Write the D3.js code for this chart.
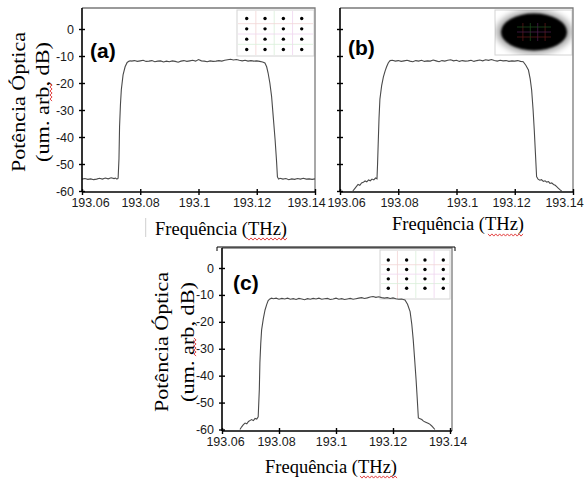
<!DOCTYPE html>
<html><head><meta charset="utf-8">
<script src="https://cdn.jsdelivr.net/npm/d3@7"></script>
<style>body{margin:0;background:#fff}</style>
</head><body>
<svg id="chart" width="584" height="481"></svg>
<script>
// ---------- data ----------
const xTicks = [193.06, 193.08, 193.1, 193.12, 193.14];
const xTickLabels = ["193.06", "193.08", "193.1", "193.12", "193.14"];
const yTicks = [0, -10, -20, -30, -40, -50, -60];
const yTickLabels = ["0", "-10", "-20", "-30", "-40", "-50", "-60"];
const panelLabels = ["(a)", "(b)", "(c)"];
const yTitleLines = ["Potência Óptica", "(um. arb, dB)"];
const xTitle = "Frequência (THz)";
const qamLevels = [-3, -1, 1, 3];

const spectrumA = [
  [193.0600,-55.6],[193.0610,-55.4],[193.0620,-55.7],[193.0630,-55.5],[193.0640,-55.8],[193.0650,-55.6],
  [193.0660,-55.3],[193.0670,-55.6],[193.0680,-55.2],[193.0690,-55.5],[193.0700,-55.1],[193.0710,-55.4],
  [193.0715,-55.2],[193.0720,-55.6],[193.0724,-55.3],
  [193.0727,-48],[193.0729,-36],[193.0732,-28],[193.0735,-22.5],[193.0741,-17],[193.0748,-14],
  [193.0755,-12.4],[193.0762,-11.9],[193.0768,-11.8],
  [193.077,-11.9],[193.078,-11.7],[193.079,-12.0],[193.080,-11.8],[193.081,-11.6],[193.082,-12.0],
  [193.083,-11.9],[193.084,-11.7],[193.085,-12.1],[193.086,-11.9],[193.087,-11.8],[193.088,-12.2],
  [193.089,-11.9],[193.090,-12.1],[193.091,-11.8],[193.092,-12.0],[193.093,-12.3],[193.094,-11.9],
  [193.095,-11.7],[193.096,-12.0],[193.097,-11.8],[193.098,-11.6],[193.099,-11.9],[193.100,-11.3],
  [193.101,-11.8],[193.102,-11.9],[193.103,-12.1],[193.104,-11.8],[193.105,-12.0],[193.106,-11.9],
  [193.107,-11.7],[193.108,-11.9],[193.109,-11.6],[193.110,-11.4],[193.111,-11.2],[193.112,-11.5],
  [193.113,-11.3],[193.114,-11.6],[193.115,-11.8],[193.116,-11.6],[193.117,-11.9],[193.118,-11.7],
  [193.119,-11.9],[193.120,-11.8],[193.121,-12.0],[193.122,-12.2],
  [193.1228,-12.6],[193.1234,-14],[193.1239,-16.3],[193.1245,-20],[193.1251,-25],[193.1257,-33],
  [193.1263,-41],[193.1268,-49],[193.1271,-54.8],[193.1275,-55.6],
  [193.1280,-55.3],[193.1290,-55.6],[193.1300,-55.4],[193.1310,-55.8],[193.1320,-55.5],[193.1330,-55.7],
  [193.1340,-55.4],[193.1350,-55.6],[193.1360,-55.3],[193.1370,-55.6],[193.1380,-55.5],[193.1390,-55.7],
  [193.1400,-55.5]
];

const spectrumB = [
  [193.0644,-60],[193.0650,-59.2],[193.0656,-58.4],[193.0662,-57.6],[193.0668,-57.9],[193.0674,-57.0],
  [193.0680,-56.8],[193.0686,-56.3],[193.0692,-56.6],[193.0698,-55.9],[193.0704,-56.2],[193.0710,-55.6],
  [193.0716,-55.9],[193.0722,-55.2],[193.0727,-55.5],
  [193.0729,-50],[193.0731,-43],[193.0734,-33],[193.0737,-26],[193.0743,-21],[193.0749,-17.7],
  [193.0755,-15.5],[193.0760,-14],[193.0766,-12.5],[193.0772,-11.7],
  [193.078,-11.6],[193.079,-11.9],[193.080,-11.7],[193.081,-12.0],[193.082,-11.8],[193.083,-11.6],
  [193.084,-11.9],[193.085,-12.1],[193.086,-11.7],[193.087,-11.9],[193.088,-11.6],[193.089,-12.0],
  [193.090,-11.8],[193.091,-11.9],[193.092,-11.5],[193.093,-11.8],[193.094,-12.1],[193.095,-11.7],
  [193.096,-11.9],[193.097,-11.6],[193.098,-11.4],[193.099,-11.8],[193.100,-11.6],[193.101,-12.0],
  [193.102,-11.7],[193.103,-11.9],[193.104,-11.8],[193.105,-11.6],[193.106,-12.0],[193.107,-11.7],
  [193.108,-11.5],[193.109,-11.8],[193.110,-11.4],[193.111,-11.6],[193.112,-11.3],[193.113,-11.7],
  [193.114,-11.9],[193.115,-11.6],[193.116,-11.8],[193.117,-11.7],[193.118,-12.0],[193.119,-11.8],
  [193.120,-11.9],[193.121,-11.7],[193.122,-12.0],
  [193.1229,-12.1],[193.1238,-13.4],[193.1247,-15.2],[193.1253,-18.5],[193.1258,-22.6],[193.1263,-30],
  [193.1267,-37.4],[193.1271,-46],[193.1275,-54.7],[193.1280,-55.6],[193.1286,-56.0],[193.1292,-55.8],
  [193.1298,-56.4],[193.1304,-56.2],[193.1310,-56.7],[193.1316,-56.5],[193.1321,-57.2],[193.1327,-57.0],
  [193.1333,-57.6],[193.1339,-57.9],[193.1344,-58.4],[193.1350,-59.0],[193.1356,-59.6],[193.1361,-60]
];

const spectrumC = [
  [193.0663,-60],[193.0669,-59.0],[193.0675,-58.2],[193.0681,-57.6],[193.0687,-57.9],[193.0693,-57.0],
  [193.0699,-56.6],[193.0704,-56.3],[193.0710,-56.7],[193.0716,-55.9],[193.0722,-56.1],[193.0727,-55.3],
  [193.0731,-45],[193.0733,-35.1],[193.0736,-28],[193.0739,-23],[193.0745,-18.8],[193.0751,-15.6],
  [193.0757,-13.5],[193.0762,-12.1],[193.0768,-11.5],[193.0774,-11.2],
  [193.078,-11.4],[193.079,-11.2],[193.080,-11.6],[193.081,-11.3],[193.082,-11.5],[193.083,-11.2],
  [193.084,-11.6],[193.085,-11.4],[193.086,-11.7],[193.087,-11.3],[193.088,-11.5],[193.089,-11.8],
  [193.090,-11.4],[193.091,-11.6],[193.092,-11.3],[193.093,-11.5],[193.094,-11.2],[193.095,-11.6],
  [193.096,-11.4],[193.097,-11.3],[193.098,-11.7],[193.099,-11.5],[193.100,-11.2],[193.101,-11.6],
  [193.102,-11.4],[193.103,-11.7],[193.104,-11.5],[193.105,-11.3],[193.106,-11.6],[193.107,-11.4],
  [193.108,-11.2],[193.109,-11.0],[193.110,-11.3],[193.111,-11.1],[193.112,-10.8],[193.113,-10.6],
  [193.114,-10.9],[193.115,-10.7],[193.116,-11.0],[193.117,-11.2],[193.118,-11.0],[193.119,-11.3],
  [193.120,-11.1],[193.121,-11.4],[193.122,-11.6],[193.123,-11.5],
  [193.1242,-11.9],[193.1251,-13.5],[193.1260,-16.2],[193.1266,-21],[193.1271,-26.7],[193.1276,-34],
  [193.1281,-41.5],[193.1285,-48.5],[193.1289,-55.7],[193.1295,-56.0],[193.1301,-56.3],[193.1307,-56.9],
  [193.1313,-57.2],[193.1319,-57.5],[193.1325,-57.8],[193.1330,-58.1],[193.1336,-58.7],[193.1342,-59.4],
  [193.1347,-60]
];

// ---------- layout ----------
const panels = [
  { data: spectrumA, label: panelLabels[0], frame: {l:82, t:8, r:315, b:192}, xr:[82,315], yr:[191,29],
    yLabels: true, labelPos:[90,58], xTitlePos:[221,235], yTitleX:[19,42.5], yTitleY:102,
    xLabelX: [90, 140, 194, 251.5, 306],
    inset: {type:"qam", x0:237, y0:10, x1:314, y1:56, dx:[246.7,301.7], dy:[18.5,49.5]},
    arbWave: [51, 83, 101], thzWave: [247, 287, 239] },
  { data: spectrumB, label: panelLabels[1], frame: {l:340, t:8, r:573, b:192}, xr:[340,573], yr:[191,29],
    yLabels: false, labelPos:[348,55], xTitlePos:[458,230],
    xLabelX: [346, 399, 462, 511, 564],
    inset: {type:"cloud", x0:495, y0:10, x1:572, y1:55, cx:534, cy:32},
    thzWave: [488, 523, 235] },
  { data: spectrumC, label: panelLabels[2], frame: {l:222, t:248, r:452, b:431}, xr:[222,450], yr:[429.5,268],
    yLabels: true, labelPos:[233,290], xTitlePos:[331,473], yTitleX:[162,187.5], yTitleY:342,
    xLabelX: [225, 276, 331, 387.5, 447.5],
    inset: {type:"qam", x0:380, y0:250, x1:450, y1:299, dx:[388.3,443.3], dy:[260,288.3]},
    arbWave: [195, 338, 356], thzWave: [360, 397, 477] }
];

const svg = d3.select("#chart");
const defs = svg.append("defs");
function blur(id, s) {
  defs.append("filter").attr("id", id).attr("x","-50%").attr("y","-50%").attr("width","200%").attr("height","200%")
    .append("feGaussianBlur").attr("stdDeviation", s);
}
blur("blurBig", 3.0);
blur("blurSmall", 1.0);

const sans = "'Liberation Sans', Arial, sans-serif";
const serif = "'Liberation Serif', 'Times New Roman', serif";

function wave(g, x0, x1, y, vertical) {
  let d = "";
  const n = Math.round(Math.abs(x1 - x0) / 2);
  for (let i = 0; i <= n; i++) {
    const t = x0 + (x1 - x0) * i / n;
    const o = (i % 2 ? 1.1 : -1.1);
    d += (i ? "L" : "M") + (vertical ? (y + o) + "," + t : t + "," + (y + o));
  }
  g.append("path").attr("d", d).attr("fill","none").attr("stroke","#e03030").attr("stroke-width",0.9);
}

panels.forEach((p, pi) => {
  const g = svg.append("g");
  const x = d3.scaleLinear().domain([193.06, 193.14]).range(p.xr);
  const y = d3.scaleLinear().domain([-60, 0]).range(p.yr);
  const f = p.frame;

  // inset
  const ins = p.inset;
  const ig = g.append("g");
  const clipId = "clip" + pi;
  defs.append("clipPath").attr("id", clipId).append("rect")
    .attr("x", ins.x0).attr("y", ins.y0).attr("width", ins.x1 - ins.x0).attr("height", ins.y1 - ins.y0);
  ig.append("rect").attr("x", ins.x0).attr("y", ins.y0).attr("width", ins.x1 - ins.x0).attr("height", ins.y1 - ins.y0)
    .attr("fill", "#fff").attr("stroke", "#d4d4d4").attr("stroke-width", 1);
  if (ins.type === "qam") {
    const qx = d3.scaleLinear().domain([-3, 3]).range(ins.dx);
    const qy = d3.scaleLinear().domain([3, -3]).range(ins.dy);
    const gridCols = ["#f3d6d6", "#d9efd9", "#efd6ef"];
    [-2, 0, 2].forEach((v, i) => {
      ig.append("line").attr("x1", qx(v)).attr("x2", qx(v)).attr("y1", ins.y0 + 1).attr("y2", ins.y1 - 1)
        .attr("stroke", gridCols[i]).attr("stroke-width", 0.8);
      ig.append("line").attr("y1", qy(v)).attr("y2", qy(v)).attr("x1", ins.x0 + 1).attr("x2", ins.x1 - 1)
        .attr("stroke", gridCols[(i + 1) % 3]).attr("stroke-width", 0.8);
    });
    const pts = [];
    qamLevels.forEach(a => qamLevels.forEach(b => pts.push([a, b])));
    ig.selectAll("circle.q").data(pts).enter().append("circle")
      .attr("cx", d => qx(d[0])).attr("cy", d => qy(d[1])).attr("r", 1.7).attr("fill", "#000");
  } else {
    const cg = ig.append("g").attr("clip-path", "url(#" + clipId + ")");
    cg.append("ellipse").attr("cx", ins.cx).attr("cy", ins.cy).attr("rx", 38).attr("ry", 22)
      .attr("fill", "#000").attr("opacity", 0.35).attr("filter", "url(#blurBig)");
    cg.append("ellipse").attr("cx", ins.cx).attr("cy", ins.cy).attr("rx", 33).attr("ry", 18.5)
      .attr("fill", "#000").attr("filter", "url(#blurSmall)");
    const cols = ["#5a1818", "#1c4a1c", "#4a1c4a", "#5a1818"];
    [-3, -1, 1, 3].forEach((v, i) => {
      cg.append("line").attr("x1", ins.cx + v * 3.7).attr("x2", ins.cx + v * 3.7).attr("y1", ins.cy - 9).attr("y2", ins.cy + 9)
        .attr("stroke", cols[i]).attr("stroke-width", 0.8);
    });
    [-1, 0, 1].forEach((v, i) => {
      cg.append("line").attr("y1", ins.cy + v * 5).attr("y2", ins.cy + v * 5).attr("x1", ins.cx - 17).attr("x2", ins.cx + 17)
        .attr("stroke", cols[i + 1]).attr("stroke-width", 0.8);
    });
  }

  // frame top / right
  g.append("path").attr("d", `M${f.l},${f.t}H${f.r}V${f.b}`).attr("fill","none").attr("stroke","#7a7a7a").attr("stroke-width",1.3);

  // spectrum line
  g.append("path").datum(p.data)
    .attr("d", d3.line().x(d => x(d[0])).y(d => y(d[1])))
    .attr("fill", "none").attr("stroke", "#4a4a4a").attr("stroke-width", 1.1);

  // x axis
  const xa = g.append("g").attr("transform", `translate(0,${f.b})`)
    .call(d3.axisBottom(x).tickValues(xTicks).tickFormat((d, i) => xTickLabels[i]).tickSize(3).tickSizeOuter(0).tickPadding(3));
  xa.select(".domain").attr("d", `M${f.l},0H${f.r}`).attr("stroke","#000").attr("stroke-width",1.6);
  xa.selectAll(".tick line").attr("y1", -3).attr("stroke","#000").attr("stroke-width",1.4);
  xa.selectAll(".tick text").attr("font-family", sans).attr("font-size", 12.5).attr("fill", "#1a1a1a")
    .attr("x", (d, i) => p.xLabelX[i] - x(d));

  // y axis
  const ya = g.append("g").attr("transform", `translate(${f.l},0)`)
    .call(d3.axisLeft(y).tickValues(yTicks).tickFormat((d, i) => p.yLabels ? yTickLabels[i] : "").tickSize(3).tickSizeOuter(0).tickPadding(5));
  ya.select(".domain").attr("d", `M0,${f.t}V${f.b}`).attr("stroke","#000").attr("stroke-width",1.6);
  ya.selectAll(".tick line").attr("x1", 3).attr("stroke","#000").attr("stroke-width",1.4);
  ya.selectAll(".tick text").attr("font-family", sans).attr("font-size", 12.5).attr("fill", "#1a1a1a");

  // panel label
  g.append("text").attr("x", p.labelPos[0]).attr("y", p.labelPos[1]).text(p.label)
    .attr("font-family", sans).attr("font-weight", "bold").attr("font-size", 21).attr("fill", "#000");

  // x title
  g.append("text").attr("x", p.xTitlePos[0]).attr("y", p.xTitlePos[1]).text(xTitle)
    .attr("text-anchor", "middle").attr("font-family", serif).attr("font-size", 19.5).attr("fill", "#000")
    .attr("textLength", 132).attr("lengthAdjust", "spacingAndGlyphs");
  wave(g, p.thzWave[0], p.thzWave[1], p.thzWave[2], false);

  // y title
  if (p.yTitleX) {
    const lens = [140, 120];
    yTitleLines.forEach((t, i) => {
      g.append("text").attr("transform", `translate(${p.yTitleX[i]},${p.yTitleY}) rotate(-90)`)
        .attr("text-anchor", "middle").attr("dy", "0.33em").text(t)
        .attr("font-family", serif).attr("font-size", 19).attr("fill", "#000")
        .attr("textLength", lens[i]).attr("lengthAdjust", "spacingAndGlyphs");
    });
    wave(g, p.arbWave[1], p.arbWave[2], p.arbWave[0], true);
  }
});

// picture border above panel (c) and stray mark
svg.append("path").attr("d", "M217,251V247H455V251").attr("fill","none").attr("stroke","#000").attr("stroke-width",1);
svg.append("line").attr("x1",145.7).attr("x2",145.7).attr("y1",218).attr("y2",237).attr("stroke","#cfcfcf").attr("stroke-width",1);
</script>
</body></html>
